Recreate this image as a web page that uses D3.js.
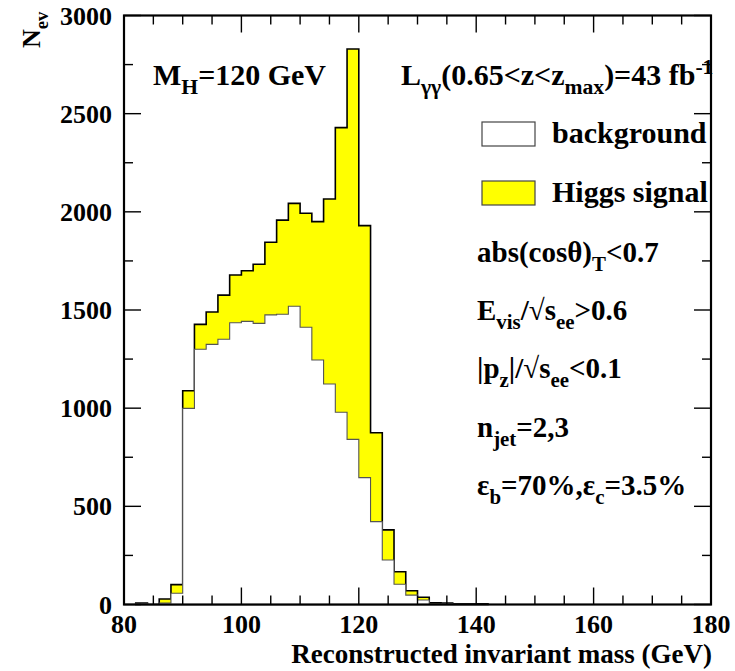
<!DOCTYPE html>
<html>
<head>
<meta charset="utf-8">
<script src="https://cdn.jsdelivr.net/npm/d3@7"></script>
<style>
  body { margin: 0; background: #fff; }
  svg { display: block; }
</style>
</head>
<body>
<svg id="chart" width="735" height="671"></svg>
<script>
// Reconstructed invariant mass histograms, 2 GeV bins (low edges)
const massLow = [82, 84, 86, 88, 90, 92, 94, 96, 98, 100, 102, 104, 106, 108, 110,
                 112, 114, 116, 118, 120, 122, 124, 126, 128, 130, 132, 134, 136, 138, 140];
const binWidth = 2;
const background = [5, 0, 8, 57, 999, 1300, 1325, 1351, 1435, 1442, 1432, 1475, 1478, 1519, 1412,
                    1245, 1123, 979, 841, 646, 422, 227, 103, 48, 23, 3, 4, 2, 2, 1];
const signal = [2, 0, 20, 44, 90, 127, 165, 225, 243, 258, 301, 370, 480, 524, 581,
                705, 942, 1450, 1988, 1284, 453, 153, 64, 22, 14, 6, 3, 2, 1, 2];

const xDomain = [80, 180];
const yDomain = [0, 3000];
const xMajor = [80, 100, 120, 140, 160, 180];
const yMajor = [0, 500, 1000, 1500, 2000, 2500, 3000];

const legendLabels = ["background", "Higgs signal"];

const svg = d3.select("#chart");
const m = { left: 124, right: 711, top: 15.5, bottom: 604.5 };
const x = d3.scaleLinear().domain(xDomain).range([m.left, m.right]);
const y = d3.scaleLinear().domain(yDomain).range([m.bottom, m.top]);

// step outline of a histogram
function stepPoints(vals) {
  const pts = [[massLow[0], 0]];
  vals.forEach((v, i) => {
    pts.push([massLow[i], v]);
    pts.push([massLow[i] + binWidth, v]);
  });
  pts.push([massLow[massLow.length - 1] + binWidth, 0]);
  return pts;
}
const line = d3.line().x(d => x(d[0])).y(d => y(d[1]));
const total = background.map((b, i) => b + signal[i]);

const plot = svg.append("g");
plot.append("path").attr("d", line(stepPoints(total)) + "Z")
  .attr("fill", "#ffff00").attr("stroke", "#000").attr("stroke-width", 1.6);
plot.append("path").attr("d", line(stepPoints(background)) + "Z")
  .attr("fill", "#fff").attr("stroke", "#555").attr("stroke-width", 1.1);

// frame and ticks on all four sides, pointing inward
const major = 17, minor = 9;
const axG = svg.append("g").attr("stroke", "#000").attr("stroke-width", 1.4);
d3.range(80, 180.01, 5).forEach(v => {
  const len = v % 20 === 0 ? major : minor;
  axG.append("line").attr("x1", x(v)).attr("x2", x(v)).attr("y1", m.bottom).attr("y2", m.bottom - len);
  axG.append("line").attr("x1", x(v)).attr("x2", x(v)).attr("y1", m.top).attr("y2", m.top + len);
});
d3.range(0, 3000.01, 250).forEach(v => {
  const len = v % 500 === 0 ? major : minor;
  axG.append("line").attr("y1", y(v)).attr("y2", y(v)).attr("x1", m.left).attr("x2", m.left + len);
  axG.append("line").attr("y1", y(v)).attr("y2", y(v)).attr("x1", m.right).attr("x2", m.right - len);
});

// tick labels
svg.append("g").selectAll("text").data(xMajor).join("text")
  .attr("x", d => x(d)).attr("y", 633).attr("text-anchor", "middle")
  .attr("font-size", 26).text(d => d);
svg.append("g").selectAll("text").data(yMajor).join("text")
  .attr("x", 112).attr("y", d => y(d)).attr("dy", "0.35em").attr("text-anchor", "end")
  .attr("font-size", 26).text(d => d);

// text with sub/superscripts: parts = [[string, "", "sub" or "sup"], ...]
function rich(parent, px, py, parts, size, anchor) {
  const t = parent.append("text").attr("x", px).attr("y", py)
    .attr("font-size", size).attr("text-anchor", anchor || "start");
  let off = 0;
  parts.forEach(([s, mode]) => {
    const target = mode === "sub" ? 0.3 * size : mode === "sup" ? -0.38 * size : 0;
    t.append("tspan").attr("dy", target - off)
      .attr("font-size", mode ? size * 0.72 : size).text(s);
    off = target;
  });
  return t;
}

// axis titles
svg.append("text").attr("x", 712).attr("y", 663).attr("text-anchor", "end")
  .attr("font-size", 27).text("Reconstructed invariant mass (GeV)");
const yt = svg.append("g").attr("transform", "translate(40,48) rotate(-90)");
rich(yt, 0, 0, [["N", ""], ["ev", "sub"]], 26);

// annotations
rich(svg, 153, 85, [["M", ""], ["H", "sub"], ["=120 GeV", ""]], 30);
rich(svg, 401, 85, [["L", ""], ["γγ", "sub"], ["(0.65<z<z", ""], ["max", "sub"], [")=43 fb", ""], ["-1", "sup"]], 30);

// legend
const legendFill = ["#fff", "#ffff00"];
const legendY = [122, 181];
legendLabels.forEach((lab, i) => {
  svg.append("rect").attr("x", 482).attr("y", legendY[i]).attr("width", 53).attr("height", 24)
    .attr("fill", legendFill[i]).attr("stroke", "#444").attr("stroke-width", 1.2);
  svg.append("text").attr("x", 552).attr("y", legendY[i] + 21).attr("font-size", 30).text(lab);
});

// selection cuts
const cuts = [
  [["abs(cosθ)", ""], ["T", "sub"], ["<0.7", ""]],
  [["E", ""], ["vis", "sub"], ["/√s", ""], ["ee", "sub"], [">0.6", ""]],
  [["|p", ""], ["z", "sub"], ["|/√s", ""], ["ee", "sub"], ["<0.1", ""]],
  [["n", ""], ["jet", "sub"], ["=2,3", ""]],
  [["ε", ""], ["b", "sub"], ["=70%,ε", ""], ["c", "sub"], ["=3.5%", ""]]
];
const cutY = [262, 320, 378, 437, 495];
cuts.forEach((c, i) => rich(svg, 477, cutY[i], c, 29));

// frame drawn last so it sits above any text reaching the edge
svg.append("rect").attr("x", m.left).attr("y", m.top)
  .attr("width", m.right - m.left).attr("height", m.bottom - m.top)
  .attr("fill", "none").attr("stroke", "#000").attr("stroke-width", 2.2);

// all labels in a bold Times-style face
svg.selectAll("text")
  .style("font-family", "'Liberation Serif', serif")
  .style("font-weight", "bold")
  .style("fill", "#000");
</script>
</body>
</html>
